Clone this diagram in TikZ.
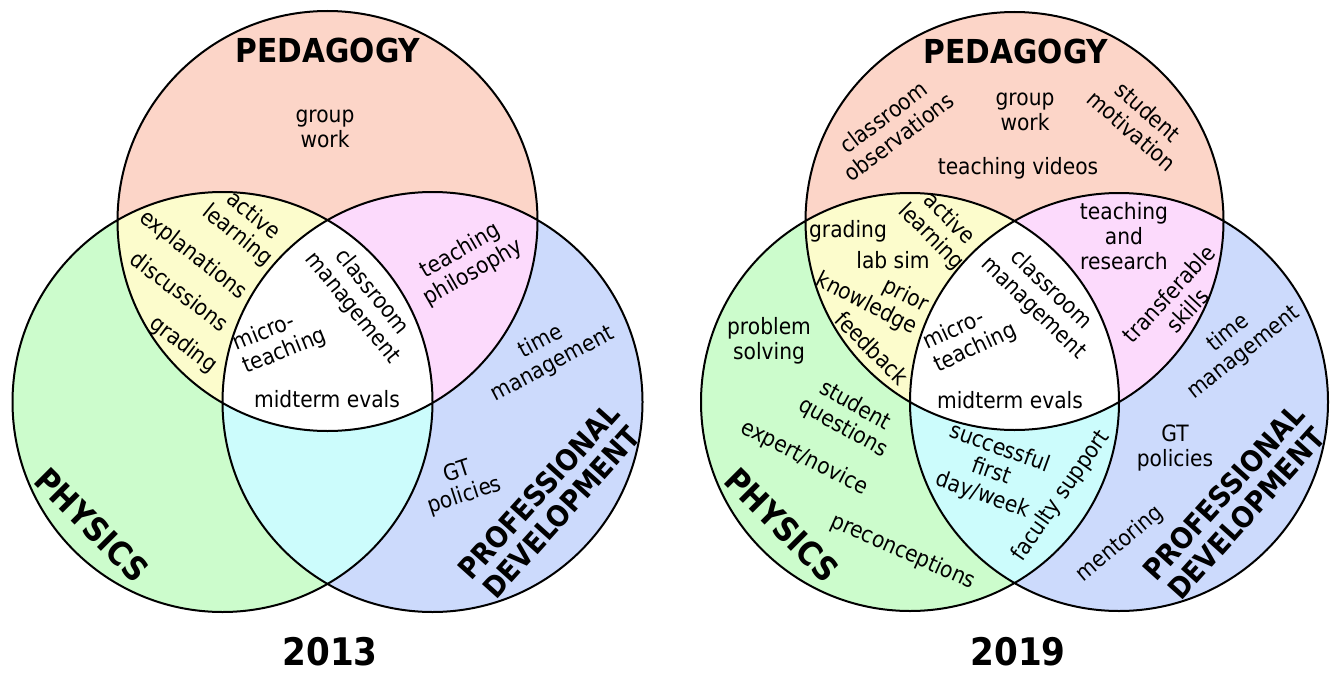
\documentclass[tikz,border=0pt]{standalone}
\usepackage{fontspec}
\setmainfont{DejaVu Sans}[FakeStretch=0.9]
\definecolor{pedcol}{RGB}{252,213,200}
\definecolor{phycol}{RGB}{204,252,204}
\definecolor{procol}{RGB}{204,218,252}
\definecolor{yelcol}{RGB}{252,252,204}
\definecolor{pnkcol}{RGB}{252,218,252}
\definecolor{cyncol}{RGB}{204,252,252}
\begin{document}
\begin{tikzpicture}[
	x=1pt, y=-1pt,
	every node/.style={
		inner sep=0pt, align=center,
		font=\fontsize{22.5}{25}\selectfont
	},
	heading/.style={font=\bfseries\fontsize{33}{35}\selectfont},
	subheading/.style={font=\bfseries\fontsize{29}{31}\selectfont},
	year/.style={font=\bfseries\fontsize{38}{40}\selectfont},
	ring/.style={draw=black, line width=2pt}
	]
	\useasboundingbox (0,0) rectangle (1332,674);
	
	% Left diagram: 2013
	\coordinate (ped13) at (327.5,221);
	\coordinate (phy13) at (222.5,402);
	\coordinate (pro13) at (432.5,402);
	\fill[pedcol] (ped13) circle (210pt);
	\fill[phycol] (phy13) circle (210pt);
	\fill[procol] (pro13) circle (210pt);
	\begin{scope}
		\clip (phy13) circle (210pt);
		\fill[cyncol] (pro13) circle (210pt);
	\end{scope}
	\begin{scope}
		\clip (ped13) circle (210pt);
		\fill[yelcol] (phy13) circle (210pt);
		\fill[pnkcol] (pro13) circle (210pt);
		\clip (phy13) circle (210pt);
		\fill[white] (pro13) circle (210pt);
	\end{scope}
	\draw[ring] (ped13) circle (210pt) (phy13) circle (210pt) (pro13) circle (210pt);
	
	\node[heading] (ped13title) at (328,50) {PEDAGOGY};
	\node (groupwork13) at (325,129) {group\\work};
	\node[rotate=-39] (active13) at (245,226) {active\\learning};
	\node[rotate=-38] (explan13) at (193,255) {explanations};
	\node[rotate=-37] (discuss13) at (180,291) {discussions};
	\node[rotate=-37] (grading13) at (183,345) {grading};
	\node[rotate=22, align=left] (micro13) at (280,340) {micro-\\teaching};
	\node[rotate=-51] (classman13) at (362,300) {classroom\\management};
	\node (midterm13) at (327,399) {midterm evals};
	\node[rotate=30] (philo13) at (467,262) {teaching\\philosophy};
	\node[rotate=28] (time13) at (547,353) {time\\management};
	\node[rotate=18] (gt13) at (461,484) {GT\\policies};
	\node[heading, rotate=-45] (phy13title) at (92,525) {PHYSICS};
	\node[subheading, rotate=48] (pro13title) at (550,502) {PROFESSIONAL\\DEVELOPMENT};
	\node[year] (yr13) at (330,652) {2013};
	
	% Right diagram: 2019
	\coordinate (ped19) at (1014.5,221);
	\coordinate (phy19) at (910,402);
	\coordinate (pro19) at (1119,402);
	\fill[pedcol] (ped19) circle (209pt);
	\fill[phycol] (phy19) circle (209pt);
	\fill[procol] (pro19) circle (209pt);
	\begin{scope}
		\clip (phy19) circle (209pt);
		\fill[cyncol] (pro19) circle (209pt);
	\end{scope}
	\begin{scope}
		\clip (ped19) circle (209pt);
		\fill[yelcol] (phy19) circle (209pt);
		\fill[pnkcol] (pro19) circle (209pt);
		\clip (phy19) circle (209pt);
		\fill[white] (pro19) circle (209pt);
	\end{scope}
	\draw[ring] (ped19) circle (209pt) (phy19) circle (209pt) (pro19) circle (209pt);
	
	\node[heading] (ped19title) at (1016,51) {PEDAGOGY};
	\node[rotate=37] (obs19) at (891,127) {classroom\\observations};
	\node (groupwork19) at (1025,112) {group\\work};
	\node[rotate=-41] (motiv19) at (1140,121) {student\\motivation};
	\node (videos19) at (1018,168) {teaching videos};
	\node (grading19) at (848,231) {grading};
	\node[rotate=-45] (active19) at (940,228) {active\\learning};
	\node (labsim19) at (893,260) {lab sim};
	\node[rotate=-27, align=right] (prior19) at (872,293) {prior\\knowledge};
	\node[rotate=-45] (feedback19) at (872,348) {feedback};
	\node[rotate=25, align=left] (micro19) at (970,337) {micro-\\teaching};
	\node[rotate=-44] (classman19) at (1042,299) {classroom\\management};
	\node (midterm19) at (1010,400) {midterm evals};
	\node (research19) at (1124,236) {teaching\\and\\research};
	\node[rotate=47] (skills19) at (1178,302) {transferable\\skills};
	\node[rotate=38] (time19) at (1236,343) {time\\management};
	\node (gt19) at (1175,448) {GT\\policies};
	\node[rotate=40] (mentor19) at (1120,544) {mentoring};
	\node[subheading, rotate=48] (pro19title) at (1235,503) {PROFESSIONAL\\DEVELOPMENT};
	\node[rotate=55] (faculty19) at (1061,496) {faculty support};
	\node[rotate=-20] (first19) at (991,472) {successful\\first\\day/week};
	\node (problem19) at (769,341) {problem\\solving};
	\node[rotate=-29] (questions19) at (849,417) {student\\questions};
	\node[rotate=-27] (expert19) at (804,458) {expert/novice};
	\node[heading, rotate=-45] (phy19title) at (782,525) {PHYSICS};
	\node[rotate=-24] (precon19) at (903,552) {preconceptions};
	\node[year] (yr19) at (1018,652) {2019};
	
\end{tikzpicture}
\end{document}
